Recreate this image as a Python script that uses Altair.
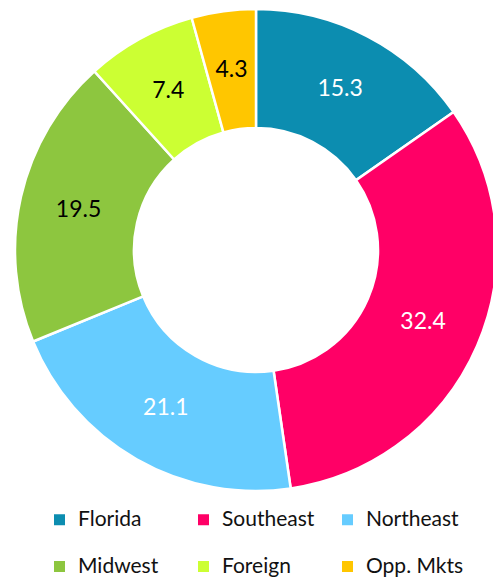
import altair as alt
import pandas as pd

categories = ["Florida", "Southeast", "Northeast", "Midwest", "Foreign", "Opp. Mkts"]
values = [15.3, 32.4, 21.1, 19.5, 7.4, 4.3]
colors = ["#0C8DB0", "#FF0066", "#66CCFF", "#8DC63F", "#CCFF33", "#FFC600"]
label_colors = ["white", "white", "white", "black", "black", "black"]

df = pd.DataFrame({
    "cat": categories,
    "val": values,
    "order": list(range(len(categories))),
    "lc": label_colors,
    "lbl": [f"{v:.1f}" for v in values],
})

cx, cy = 248, 242

base = alt.Chart(df).encode(
    theta=alt.Theta("val:Q", stack=True),
    order=alt.Order("order:Q"),
)

arcs = base.mark_arc(outerRadius=241, innerRadius=122, stroke="white", strokeWidth=2.5).encode(
    x=alt.value(cx), y=alt.value(cy),
    color=alt.Color("cat:N", scale=alt.Scale(domain=categories, range=colors),
                    legend=alt.Legend(title=None, orient="none", legendX=41, legendY=501,
                                      columns=3, direction="horizontal", gridAlign="all",
                                      symbolType="square", symbolSize=121,
                                      symbolStrokeWidth=0,
                                      labelFont="Lato", labelFontSize=21, labelColor="#111",
                                      columnPadding=17, rowPadding=25,
                                      labelOffset=8)),
)

texts = base.mark_text(radius=182, font="Lato", fontSize=23).encode(
    x=alt.value(cx), y=alt.value(cy),
    text="lbl:N",
    color=alt.Color("lc:N", scale=None),
)

chart = (arcs + texts).properties(width=485, height=570, autosize=alt.AutoSizeParams(type="none"), padding=0).configure_view(stroke=None)

chart.save("out.html", embed_options={"renderer": "svg", "actions": False})
